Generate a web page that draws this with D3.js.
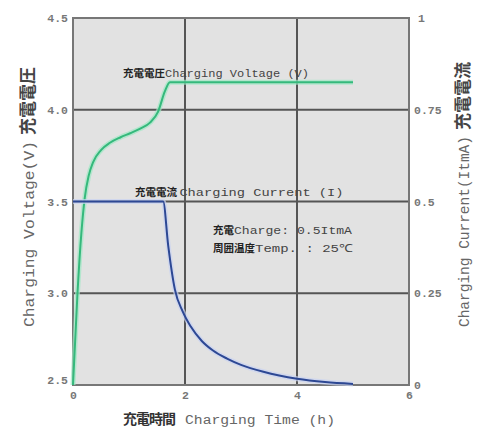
<!DOCTYPE html>
<html>
<head>
<meta charset="utf-8">
<script src="https://cdn.jsdelivr.net/npm/d3@7"></script>
<style>
  body { margin: 0; background: #fff; }
  svg { display: block; }
  .mono { font-family: "Liberation Mono", "DejaVu Sans Mono", monospace; }
  .cjk { font-family: "Noto Sans CJK JP", sans-serif; font-weight: 700; }
</style>
</head>
<body>
<script>
// charging voltage curve (h, V)
const voltTime = [0, 0.08, 0.15, 0.21, 0.28, 0.36, 0.5, 0.66, 0.85, 1.02, 1.2, 1.375, 1.52, 1.64, 1.73, 2.5, 3.5, 5.0];
const voltage = [2.5, 3.0, 3.33, 3.52, 3.64, 3.715, 3.78, 3.82, 3.85, 3.872, 3.897, 3.93, 3.99, 4.1, 4.15, 4.15, 4.15, 4.15];

// charging current curve (h, ItmA)
const currTime = [0, 1.61, 1.7, 1.82, 1.96, 2.1, 2.3, 2.5, 2.75, 3.0, 3.4, 4.0, 4.5, 5.0];
const current = [0.5, 0.5, 0.38, 0.26, 0.2, 0.16, 0.12, 0.094, 0.072, 0.055, 0.036, 0.017, 0.008, 0.003];

const xTicks = [0, 2, 4, 6];
const voltTicks = [2.5, 3.0, 3.5, 4.0, 4.5];
const currTicks = [0, 0.25, 0.5, 0.75, 1];

const w = 477, h = 429;
const svg = d3.select("body").append("svg").attr("width", w).attr("height", h);

const x = d3.scaleLinear().domain([0, 6]).range([73, 409]);
const yV = d3.scaleLinear().domain([2.5, 4.5]).range([385, 18]);
const yI = d3.scaleLinear().domain([0, 1]).range([385, 18]);

// plot background
svg.append("rect")
  .attr("x", x(0)).attr("y", yV(4.5))
  .attr("width", x(6) - x(0)).attr("height", yV(2.5) - yV(4.5))
  .attr("fill", "#e2e2e2");

// grid
svg.append("g").selectAll("line").data([3.0, 3.5, 4.0]).enter().append("line")
  .attr("x1", x(0)).attr("x2", x(6))
  .attr("y1", d => yV(d)).attr("y2", d => yV(d))
  .attr("stroke", "#555").attr("stroke-width", 2);
svg.append("g").selectAll("line").data([2, 4]).enter().append("line")
  .attr("x1", d => x(d)).attr("x2", d => x(d))
  .attr("y1", yV(4.5)).attr("y2", yV(2.5))
  .attr("stroke", "#555").attr("stroke-width", 2);

// border
svg.append("rect")
  .attr("x", x(0)).attr("y", yV(4.5))
  .attr("width", x(6) - x(0)).attr("height", yV(2.5) - yV(4.5))
  .attr("fill", "none").attr("stroke", "#777").attr("stroke-width", 2);

// lines
const vLine = d3.line().x((d, i) => x(voltTime[i])).y(d => yV(d)).curve(d3.curveMonotoneX);
const iLine = d3.line().x((d, i) => x(currTime[i])).y(d => yI(d)).curve(d3.curveMonotoneX);

svg.append("path").attr("d", vLine(voltage)).attr("fill", "none")
  .attr("stroke", "#9fe8c4").attr("stroke-width", 5).attr("opacity", 0.7);
svg.append("path").attr("d", vLine(voltage)).attr("fill", "none")
  .attr("stroke", "#35b97c").attr("stroke-width", 2);

svg.append("path").attr("d", iLine(current)).attr("fill", "none")
  .attr("stroke", "#c9d3f2").attr("stroke-width", 5).attr("opacity", 0.7);
svg.append("path").attr("d", iLine(current)).attr("fill", "none")
  .attr("stroke", "#2d4894").attr("stroke-width", 2);

// axes
const fmtV = d3.format(".1f");
const left = svg.append("g").attr("transform", `translate(${x(0)},0)`)
  .call(d3.axisLeft(yV).tickValues(voltTicks).tickSize(0).tickPadding(5).tickFormat(fmtV));
const right = svg.append("g").attr("transform", `translate(${x(6)},0)`)
  .call(d3.axisRight(yI).tickValues(currTicks).tickSize(0).tickPadding(5).tickFormat(d => String(d)));
const bottom = svg.append("g").attr("transform", `translate(0,${yV(2.5)})`)
  .call(d3.axisBottom(x).tickValues(xTicks).tickSize(0).tickPadding(6).tickFormat(d => String(d)));

[left, right, bottom].forEach(g => {
  g.select(".domain").remove();
  g.selectAll("text").attr("class", "mono").style("font-size", "11.5px")
    .style("font-weight", "700").attr("fill", "#777");
});
left.selectAll("text").filter(d => d === 2.5).attr("dy", "-0.1em");
right.selectAll("text").filter(d => d === 1).attr("dx", "4px");

// axis titles (rotated, read bottom to top)
function sideTitle(cx, eng, engLen, cjk) {
  const t = svg.append("text").attr("transform", `translate(${cx},327) rotate(-90)`);
  t.append("tspan").attr("class", "mono").style("font-size", "14px").attr("fill", "#666")
    .attr("textLength", engLen).attr("lengthAdjust", "spacingAndGlyphs").text(eng);
  t.append("tspan").attr("class", "cjk").style("font-size", "17px").attr("fill", "#444")
    .attr("dx", 6).text(cjk);
}
sideTitle(34, "Charging Voltage(V)", 186, "充電電圧");
sideTitle(469, "Charging Current(ItmA)", 191, "充電電流");

const xTitle = svg.append("text").attr("x", 123).attr("y", 424);
xTitle.append("tspan").attr("class", "cjk").style("font-size", "14px").attr("fill", "#333")
  .attr("textLength", 53).text("充電時間");
xTitle.append("tspan").attr("class", "mono").style("font-size", "12px").attr("fill", "#666")
  .attr("dx", 10).attr("textLength", 150).attr("lengthAdjust", "spacingAndGlyphs")
  .text("Charging Time (h)");

// in-plot labels
function label(px, py, cjk, eng, engLen) {
  const t = svg.append("text").attr("x", px).attr("y", py);
  t.append("tspan").attr("class", "cjk").style("font-size", "10.5px").attr("fill", "#222").text(cjk);
  t.append("tspan").attr("class", "mono").style("font-size", "11px").attr("fill", "#444")
    .attr("textLength", engLen).attr("lengthAdjust", "spacingAndGlyphs").text(eng);
}
label(123, 77, "充電電圧", "Charging Voltage (V)", 144);
label(135, 196, "充電電流 ", "Charging Current (I)", 164);
label(213, 234, "充電", "Charge: 0.5ItmA", 118);
label(213, 252, "周囲温度", "Temp. : 25℃", 98);
</script>
</body>
</html>
